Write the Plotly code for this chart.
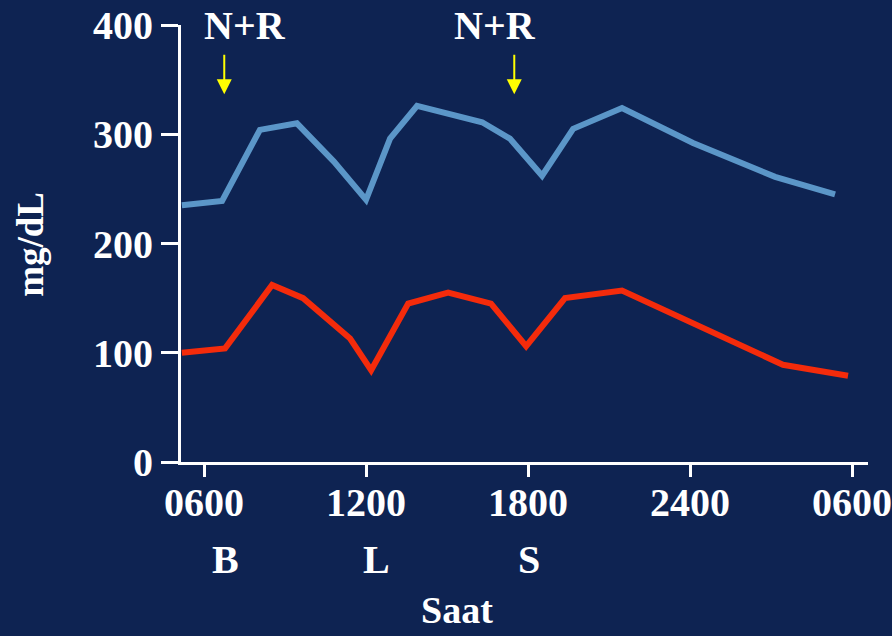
import plotly.graph_objects as go

# Time of day in hours (6 = 06:00, 30 = 06:00 next day) and glucose in mg/dL
upper_hours = [5.18, 6.67, 8.07, 9.44, 10.81, 12.0, 12.89, 13.89, 16.30, 17.33,
               18.52, 19.67, 21.48, 24.11, 27.15, 29.37]
upper_mgdl = [235, 239, 304, 310, 275, 240, 296, 326, 311, 296,
              262, 305, 324, 292, 261, 245]

lower_hours = [5.18, 6.78, 8.52, 9.67, 11.41, 12.19, 13.56, 15.04, 16.63, 17.93,
               19.37, 21.48, 27.44, 29.85]
lower_mgdl = [100, 104, 162, 150, 113, 84, 145, 155, 145, 106,
              150, 157, 89, 79]

tick_hours = [6, 12, 18, 24, 30]
tick_text = ["0600", "1200", "1800", "2400", "0600"]
y_ticks = [0, 100, 200, 300, 400]

meal_hours = [6.81, 12.4, 18.04]
meal_text = ["B", "L", "S"]

dose_hours = [6.75, 17.49]
dose_label_hours = [7.5, 16.78]
dose_text = "N+R"

BG = "#0e2352"
WHITE = "#ffffff"
FONT = "Liberation Serif, Times New Roman, serif"


def bold(size):
    return dict(family=FONT, size=size, color=WHITE, weight="bold")


fig = go.Figure()
fig.add_trace(go.Scatter(x=upper_hours, y=upper_mgdl, mode="lines",
                         line=dict(color="#5b96c8", width=6), hoverinfo="skip"))
fig.add_trace(go.Scatter(x=lower_hours, y=lower_mgdl, mode="lines",
                         line=dict(color="#f42b0b", width=6), hoverinfo="skip"))

annotations = []
for h, t in zip(meal_hours, meal_text):
    annotations.append(dict(x=h, y=-0.224, xref="x", yref="paper", text=t,
                            showarrow=False, xanchor="center", yanchor="middle",
                            font=bold(40)))
annotations.append(dict(x=0.402, y=-0.339, xref="paper", yref="paper", text="Saat",
                        showarrow=False, xanchor="center", yanchor="middle",
                        font=bold(38)))
annotations.append(dict(x=-0.2183, y=0.497, xref="paper", yref="paper", text="mg/dL",
                        showarrow=False, xanchor="center", yanchor="middle",
                        textangle=-90, font=bold(37)))
for h in dose_label_hours:
    annotations.append(dict(x=h, y=1.0, xref="x", yref="paper", text=dose_text,
                            showarrow=False, xanchor="center", yanchor="middle",
                            font=bold(40)))
for h in dose_hours:
    annotations.append(dict(x=h, y=336.5, xref="x", yref="y", text="",
                            showarrow=True, ax=0, ay=-41, axref="pixel", ayref="pixel",
                            arrowhead=2, arrowsize=1.5, arrowwidth=2,
                            arrowcolor="#ffff00"))

fig.update_layout(
    width=892, height=636,
    margin=dict(l=181, r=24, t=25, b=174, autoexpand=False),
    paper_bgcolor=BG, plot_bgcolor=BG,
    showlegend=False,
    font=bold(40),
    annotations=annotations,
    xaxis=dict(range=[5.148, 30.59], tickvals=tick_hours, ticktext=tick_text,
               showgrid=False, zeroline=False, showline=True, linecolor=WHITE,
               linewidth=3, ticks="outside", ticklen=12, tickwidth=3,
               tickcolor=WHITE, tickfont=bold(40), automargin=False,
               ticklabeloverflow="allow", ticklabelstandoff=-9),
    yaxis=dict(range=[0, 400], tickvals=y_ticks, showgrid=False, zeroline=False,
               showline=True, linecolor=WHITE, linewidth=3, ticks="outside",
               ticklen=17, tickwidth=3, tickcolor=WHITE, tickfont=bold(40),
               automargin=False, ticklabeloverflow="allow"),
)

fig.write_html("out.html")
